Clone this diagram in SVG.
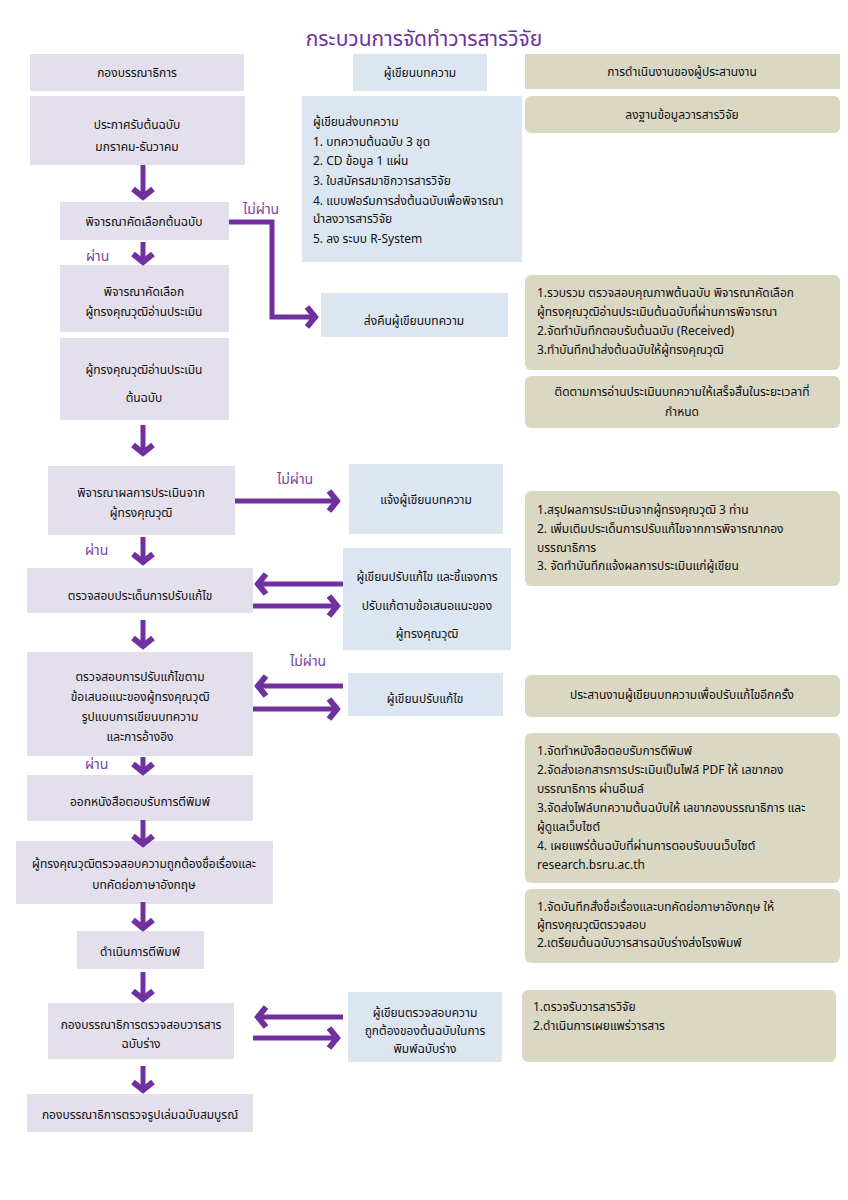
<svg xmlns="http://www.w3.org/2000/svg" width="848" height="1200" viewBox="0 0 848 1200">
<style>
.lav{fill:#e4dfec}
.blu{fill:#dce6f1}
.kha{fill:#dad7c3}
text{font-family:"Noto Sans Thai","Tahoma","Noto Sans","DejaVu Sans",sans-serif;font-size:12px;fill:#111111}
.c{text-anchor:middle}
.lbl{fill:#7a44a6;font-size:14px}
.title{fill:#7030a0;font-size:21px;text-anchor:middle}
.arr{fill:none;stroke:#7030a0;stroke-width:5}
</style>
<defs>
<marker id="ah" viewBox="-14 -14 28 28" markerWidth="28" markerHeight="28" markerUnits="userSpaceOnUse" refX="0" refY="0" orient="auto" overflow="visible">
<path d="M-10,-10 L-2,0 L-10,10" fill="none" stroke="#7030a0" stroke-width="6" stroke-linejoin="miter"/>
</marker>
</defs>
<rect width="848" height="1200" fill="#ffffff"/>
<text class="title" x="424" y="46">กระบวนการจัดทำวารสารวิจัย</text>

<g id="h-editor"><rect class="lav" x="30" y="54" width="214" height="37"/><text class="c" x="137" y="77">กองบรรณาธิการ</text></g>
<g id="h-author"><rect class="blu" x="353" y="54" width="134" height="37"/><text class="c" x="420" y="77">ผู้เขียนบทความ</text></g>
<g id="h-coord"><rect class="kha" x="525" y="54" width="315" height="35"/><text class="c" x="682" y="76">การดำเนินงานของผู้ประสานงาน</text></g>

<g id="n1"><rect class="lav" x="30" y="96" width="215" height="69"/><text class="c" x="137" y="129">ประกาศรับต้นฉบับ</text><text class="c" x="137" y="151">มกราคม-ธันวาคม</text></g>
<g id="n2"><rect class="lav" x="60" y="202" width="169" height="38"/><text class="c" x="144" y="226">พิจารณาคัดเลือกต้นฉบับ</text></g>
<g id="n3"><rect class="lav" x="60" y="265" width="169" height="67"/><text class="c" x="144" y="296">พิจารณาคัดเลือก</text><text class="c" x="144" y="316">ผู้ทรงคุณวุฒิอ่านประเมิน</text></g>
<g id="n4"><rect class="lav" x="60" y="338" width="169" height="82"/><text class="c" x="144" y="374">ผู้ทรงคุณวุฒิอ่านประเมิน</text><text class="c" x="144" y="402">ต้นฉบับ</text></g>
<g id="n5"><rect class="lav" x="48" y="466" width="187" height="69"/><text class="c" x="141" y="497">พิจารณาผลการประเมินจาก</text><text class="c" x="141" y="517">ผู้ทรงคุณวุฒิ</text></g>
<g id="n6"><rect class="lav" x="27" y="568" width="226" height="45"/><text class="c" x="140" y="600">ตรวจสอบประเด็นการปรับแก้ไข</text></g>
<g id="n7"><rect class="lav" x="27" y="652" width="226" height="104"/><text class="c" x="140" y="681">ตรวจสอบการปรับแก้ไขตาม</text><text class="c" x="140" y="701">ข้อเสนอแนะของผู้ทรงคุณวุฒิ</text><text class="c" x="140" y="721">รูปแบบการเขียนบทความ</text><text class="c" x="140" y="741">และการอ้างอิง</text></g>
<g id="n8"><rect class="lav" x="27" y="775" width="226" height="46"/><text class="c" x="140" y="806">ออกหนังสือตอบรับการตีพิมพ์</text></g>
<g id="n9"><rect class="lav" x="16" y="841" width="257" height="63"/><text class="c" x="144" y="868">ผู้ทรงคุณวุฒิตรวจสอบความถูกต้องชื่อเรื่องและ</text><text class="c" x="144" y="889">บทคัดย่อภาษาอังกฤษ</text></g>
<g id="n10"><rect class="lav" x="77" y="931" width="127" height="38"/><text class="c" x="140" y="956">ดำเนินการตีพิมพ์</text></g>
<g id="n11"><rect class="lav" x="48" y="1003" width="186" height="56"/><text class="c" x="141" y="1029">กองบรรณาธิการตรวจสอบวารสาร</text><text class="c" x="141" y="1048">ฉบับร่าง</text></g>
<g id="n12"><rect class="lav" x="27" y="1094" width="226" height="38"/><text class="c" x="140" y="1119">กองบรรณาธิการตรวจรูปเล่มฉบับสมบูรณ์</text></g>

<g id="a1"><rect class="blu" x="302" y="96" width="220" height="166"/>
<text x="313" y="126">ผู้เขียนส่งบทความ</text>
<text x="313" y="146">1. บทความต้นฉบับ 3 ชุด</text>
<text x="313" y="165">2. CD ข้อมูล 1 แผ่น</text>
<text x="313" y="185">3. ใบสมัครสมาชิกวารสารวิจัย</text>
<text x="313" y="205">4. แบบฟอร์มการส่งต้นฉบับเพื่อพิจารณา</text>
<text x="313" y="223">นำลงวารสารวิจัย</text>
<text x="313" y="243">5. ลง ระบบ R-System</text></g>
<g id="a2"><rect class="blu" x="321" y="293" width="187" height="44"/><text class="c" x="414" y="325">ส่งคืนผู้เขียนบทความ</text></g>
<g id="a3"><rect class="blu" x="349" y="464" width="154" height="70"/><text class="c" x="426" y="504">แจ้งผู้เขียนบทความ</text></g>
<g id="a4"><rect class="blu" x="343" y="548" width="168" height="102"/><text class="c" x="427" y="581">ผู้เขียนปรับแก้ไข และชี้แจงการ</text><text class="c" x="427" y="610">ปรับแก้ตามข้อเสนอแนะของ</text><text class="c" x="427" y="638">ผู้ทรงคุณวุฒิ</text></g>
<g id="a5"><rect class="blu" x="348" y="673" width="155" height="43"/><text class="c" x="425" y="703">ผู้เขียนปรับแก้ไข</text></g>
<g id="a6"><rect class="blu" x="348" y="992" width="154" height="70"/><text class="c" x="425" y="1017">ผู้เขียนตรวจสอบความ</text><text class="c" x="425" y="1035">ถูกต้องของต้นฉบับในการ</text><text class="c" x="425" y="1053">พิมพ์ฉบับร่าง</text></g>

<g id="c1"><rect class="kha" x="525" y="96" width="315" height="37" rx="6"/><text class="c" x="682" y="119">ลงฐานข้อมูลวารสารวิจัย</text></g>
<g id="c2"><rect class="kha" x="525" y="275" width="315" height="95" rx="6"/>
<text x="537" y="297">1.รวบรวม ตรวจสอบคุณภาพต้นฉบับ พิจารณาคัดเลือก</text>
<text x="537" y="316">ผู้ทรงคุณวุฒิอ่านประเมินต้นฉบับที่ผ่านการพิจารณา</text>
<text x="537" y="335">2.จัดทำบันทึกตอบรับต้นฉบับ (Received)</text>
<text x="537" y="354">3.ทำบันทึกนำส่งต้นฉบับให้ผู้ทรงคุณวุฒิ</text></g>
<g id="c3"><rect class="kha" x="525" y="376" width="315" height="52" rx="6"/><text class="c" x="682" y="396">ติดตามการอ่านประเมินบทความให้เสร็จสิ้นในระยะเวลาที่</text><text class="c" x="682" y="416">กำหนด</text></g>
<g id="c4"><rect class="kha" x="525" y="491" width="315" height="95" rx="6"/>
<text x="537" y="514">1.สรุปผลการประเมินจากผู้ทรงคุณวุฒิ 3 ท่าน</text>
<text x="537" y="533">2. เพิ่มเติมประเด็นการปรับแก้ไขจากการพิจารณากอง</text>
<text x="537" y="552">บรรณาธิการ</text>
<text x="537" y="570">3. จัดทำบันทึกแจ้งผลการประเมินแก่ผู้เขียน</text></g>
<g id="c5"><rect class="kha" x="525" y="675" width="315" height="42" rx="6"/><text class="c" x="682" y="699">ประสานงานผู้เขียนบทความเพื่อปรับแก้ไขอีกครั้ง</text></g>
<g id="c6"><rect class="kha" x="525" y="733" width="315" height="150" rx="6"/>
<text x="537" y="755">1.จัดทำหนังสือตอบรับการตีพิมพ์</text>
<text x="537" y="774">2.จัดส่งเอกสารการประเมินเป็นไฟล์ PDF ให้ เลขากอง</text>
<text x="537" y="793">บรรณาธิการ ผ่านอีเมล์</text>
<text x="537" y="812">3.จัดส่งไฟล์บทความต้นฉบับให้ เลขากองบรรณาธิการ และ</text>
<text x="537" y="831">ผู้ดูแลเว็บไซต์</text>
<text x="537" y="850">4. เผยแพร่ต้นฉบับที่ผ่านการตอบรับบนเว็บไซต์</text>
<text x="537" y="869">research.bsru.ac.th</text></g>
<g id="c7"><rect class="kha" x="525" y="889" width="315" height="74" rx="6"/>
<text x="537" y="911">1.จัดบันทึกสั่งชื่อเรื่องและบทคัดย่อภาษาอังกฤษ ให้</text>
<text x="537" y="929">ผู้ทรงคุณวุฒิตรวจสอบ</text>
<text x="537" y="947">2.เตรียมต้นฉบับวารสารฉบับร่างส่งโรงพิมพ์</text></g>
<g id="c8"><rect class="kha" x="522" y="990" width="314" height="72" rx="6"/>
<text x="533" y="1011">1.ตรวจรับวารสารวิจัย</text>
<text x="533" y="1030">2.ดำเนินการเผยแพร่วารสาร</text></g>

<g id="labels">
<text class="lbl" x="243" y="214">ไม่ผ่าน</text>
<text class="lbl" x="86" y="261">ผ่าน</text>
<text class="lbl" x="277" y="484">ไม่ผ่าน</text>
<text class="lbl" x="85" y="555">ผ่าน</text>
<text class="lbl" x="290" y="666">ไม่ผ่าน</text>
<text class="lbl" x="85" y="769">ผ่าน</text>
</g>

<g id="connectors">
<path class="arr" marker-end="url(#ah)" d="M143,165 V199"/>
<path class="arr" marker-end="url(#ah)" d="M229,222 H272 V317 H317"/>
<path class="arr" marker-end="url(#ah)" d="M143,242 V264"/>
<path class="arr" marker-end="url(#ah)" d="M143,425 V455"/>
<path class="arr" marker-end="url(#ah)" d="M235,501 H339"/>
<path class="arr" marker-end="url(#ah)" d="M143,537 V564"/>
<path class="arr" marker-end="url(#ah)" d="M343,584 H256"/>
<path class="arr" marker-end="url(#ah)" d="M253,606 H339"/>
<path class="arr" marker-end="url(#ah)" d="M143,620 V648"/>
<path class="arr" marker-end="url(#ah)" d="M343,686 H256"/>
<path class="arr" marker-end="url(#ah)" d="M253,709 H339"/>
<path class="arr" marker-end="url(#ah)" d="M143,757 V774"/>
<path class="arr" marker-end="url(#ah)" d="M143,820 V846"/>
<path class="arr" marker-end="url(#ah)" d="M143,902 V930"/>
<path class="arr" marker-end="url(#ah)" d="M143,972 V1001"/>
<path class="arr" marker-end="url(#ah)" d="M343,1017 H256"/>
<path class="arr" marker-end="url(#ah)" d="M253,1038 H339"/>
<path class="arr" marker-end="url(#ah)" d="M143,1066 V1092"/>
</g>
</svg>
